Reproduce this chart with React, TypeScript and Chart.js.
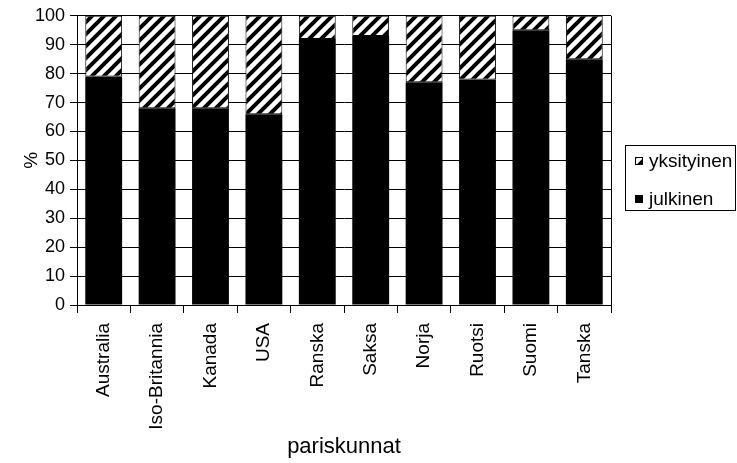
import React, { useEffect, useRef } from "react";
import { Chart, registerables } from "chart.js";

Chart.register(...registerables);

// Category labels and stacked shares (%)
const countries = [
  "Australia",
  "Iso-Britannia",
  "Kanada",
  "USA",
  "Ranska",
  "Saksa",
  "Norja",
  "Ruotsi",
  "Suomi",
  "Tanska",
];
const julkinen = [79, 68, 68, 66, 92, 93, 77, 78, 95, 85];
const yksityinen = [21, 32, 32, 34, 8, 7, 23, 22, 5, 15];
const seriesLabels = ["julkinen", "yksityinen"];
const xTitle = "pariskunnat";
const yTitle = "%";
const yMin = 0;
const yMax = 100;
const yStep = 10;

const FONT = "'Liberation Sans', Arial, sans-serif";

// Diagonal "/" stripes, black on white
function makeHatch(): CanvasPattern | string {
  const size = 12;
  const c = document.createElement("canvas");
  c.width = size;
  c.height = size;
  const g = c.getContext("2d");
  if (!g) return "#888";
  g.fillStyle = "#fff";
  g.fillRect(0, 0, size, size);
  g.strokeStyle = "#000";
  g.lineWidth = 4;
  g.beginPath();
  for (const k of [-1, 0, 1]) {
    g.moveTo(k * size - 2, size + 2);
    g.lineTo(k * size + size + 2, -2);
  }
  g.stroke();
  const p = g.createPattern(c, "repeat");
  return p || "#888";
}

export default function App() {
  const ref = useRef<HTMLCanvasElement | null>(null);

  useEffect(() => {
    const canvas = ref.current;
    if (!canvas) return;
    const hatch = makeHatch();

    // Right edge of the plot frame
    const framePlugin = {
      id: "frameRight",
      afterDraw(chart: any) {
        const { ctx, chartArea } = chart;
        ctx.save();
        ctx.strokeStyle = "#000";
        ctx.lineWidth = 1;
        ctx.beginPath();
        const x = Math.round(chartArea.right) + 0.5;
        ctx.moveTo(x, chartArea.top);
        ctx.lineTo(x, chartArea.bottom);
        ctx.stroke();
        ctx.restore();
      },
    };

    // Boxed legend on the right
    const legendPlugin = {
      id: "boxLegend",
      afterDraw(chart: any) {
        const { ctx } = chart;
        ctx.save();
        ctx.strokeStyle = "#000";
        ctx.lineWidth = 1;
        ctx.strokeRect(625.5, 145.5, 110, 65);
        const items = [
          { label: seriesLabels[1], fill: hatch, y: 167 },
          { label: seriesLabels[0], fill: "#000", y: 205 },
        ];
        ctx.font = `19px ${FONT}`;
        ctx.textBaseline = "alphabetic";
        ctx.textAlign = "left";
        for (const it of items) {
          ctx.fillStyle = it.fill as any;
          ctx.fillRect(635, it.y - 10, 8, 8);
          ctx.strokeStyle = "#000";
          ctx.strokeRect(635.5, it.y - 9.5, 7, 7);
          ctx.fillStyle = "#000";
          ctx.fillText(it.label, 649, it.y);
        }
        ctx.restore();
      },
    };

    const chart = new Chart(canvas, {
      type: "bar",
      data: {
        labels: countries,
        datasets: [
          {
            label: seriesLabels[0],
            data: julkinen,
            backgroundColor: "#000",
            borderWidth: 0,
            barPercentage: 0.69,
            categoryPercentage: 1,
          },
          {
            label: seriesLabels[1],
            data: yksityinen,
            backgroundColor: hatch as any,
            borderColor: "#000",
            borderWidth: 1,
            borderSkipped: false,
            barPercentage: 0.69,
            categoryPercentage: 1,
          },
        ],
      },
      options: {
        animation: false,
        responsive: false,
        maintainAspectRatio: false,
        layout: { padding: { top: 14, right: 126, left: 0, bottom: 0 } },
        plugins: {
          legend: { display: false },
          tooltip: { enabled: false },
        },
        scales: {
          x: {
            stacked: true,
            afterFit(scale: any) {
              scale.height = 158;
            },
            grid: {
              offset: true,
              drawOnChartArea: false,
              drawTicks: true,
              tickLength: 8,
              color: "#000",
            },
            border: { color: "#000", width: 1 },
            ticks: {
              autoSkip: false,
              minRotation: 90,
              maxRotation: 90,
              padding: 10,
              color: "#000",
              font: { family: FONT, size: 19 },
            },
            title: {
              display: true,
              text: xTitle,
              color: "#000",
              font: { family: FONT, size: 22 },
              padding: { top: 0, bottom: 3 },
            },
          },
          y: {
            stacked: true,
            min: yMin,
            max: yMax,
            afterFit(scale: any) {
              scale.width = 77;
            },
            grid: {
              color: "#000",
              drawTicks: true,
              tickLength: 7,
            },
            border: { color: "#000", width: 1 },
            ticks: {
              stepSize: yStep,
              padding: 5,
              color: "#000",
              font: { family: FONT, size: 18 },
            },
            title: {
              display: true,
              text: yTitle,
              color: "#000",
              font: { family: FONT, size: 19 },
              padding: { top: 20, bottom: 0 },
            },
          },
        },
      },
      plugins: [framePlugin, legendPlugin],
    });

    return () => chart.destroy();
  }, []);

  return (
    <div style={{ position: "fixed", left: 0, top: 0, width: 737, height: 463, background: "#fff" }}>
      <canvas ref={ref} width={737} height={463} style={{ display: "block", width: 737, height: 463 }} />
    </div>
  );
}
